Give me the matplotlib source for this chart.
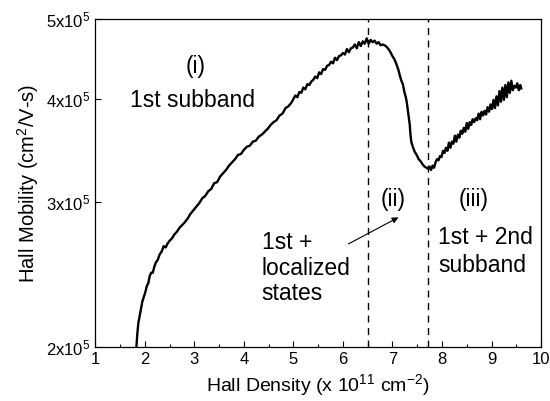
import matplotlib
matplotlib.use("Agg")
import matplotlib.pyplot as plt
from matplotlib.ticker import FixedLocator, NullLocator, MultipleLocator

plt.rcParams['font.family'] = 'Liberation Sans'
plt.rcParams['mathtext.fontset'] = 'custom'
plt.rcParams['mathtext.rm'] = 'Liberation Sans'
plt.rcParams['mathtext.it'] = 'Liberation Sans:italic'
plt.rcParams['mathtext.bf'] = 'Liberation Sans:bold'

# Hall density (1e11 cm^-2) and Hall mobility (1e5 cm^2/V-s)
density = [
    1.83, 1.85, 1.87, 1.89, 1.92, 1.95, 1.98, 2.01, 2.04, 2.07, 2.10, 2.13, 2.16, 2.19, 2.22,
    2.26, 2.30, 2.34, 2.38, 2.42, 2.46, 2.50, 2.55, 2.60, 2.65, 2.70, 2.75, 2.80, 2.86, 2.92,
    2.98,
    3.04, 3.10, 3.16, 3.22, 3.28, 3.34, 3.40, 3.46, 3.52, 3.58, 3.64, 3.70, 3.76, 3.82, 3.88,
    3.94, 4.00, 4.06, 4.12, 4.18, 4.24, 4.30, 4.36, 4.42, 4.48, 4.54, 4.60, 4.66, 4.72, 4.78,
    4.84, 4.90, 4.96,
    5.00, 5.04, 5.08, 5.12, 5.16, 5.20, 5.24, 5.28, 5.32, 5.36, 5.40, 5.44, 5.48, 5.52, 5.56,
    5.60, 5.64, 5.68, 5.72, 5.76, 5.80, 5.84, 5.88, 5.92, 5.96, 6.00, 6.04, 6.08, 6.12, 6.16,
    6.20, 6.24, 6.28, 6.32, 6.36, 6.40, 6.44, 6.48, 6.52, 6.56, 6.60, 6.64, 6.68, 6.72, 6.76,
    6.80, 6.84, 6.88,
    6.92, 6.96, 7.00, 7.04, 7.08, 7.12, 7.15, 7.18, 7.21, 7.24, 7.27, 7.29, 7.31, 7.33, 7.35,
    7.36, 7.38, 7.41, 7.45, 7.49, 7.53, 7.57, 7.61, 7.65, 7.69, 7.72,
    7.75, 7.78, 7.81, 7.84, 7.87, 7.90, 7.93, 7.96, 7.99, 8.02, 8.05, 8.08, 8.11, 8.14, 8.17,
    8.20, 8.23, 8.26, 8.29, 8.32, 8.35, 8.38, 8.41, 8.44, 8.47, 8.50, 8.53, 8.56, 8.59, 8.62,
    8.65, 8.68, 8.71, 8.74, 8.77, 8.80, 8.83, 8.86, 8.89, 8.92, 8.95, 8.98, 9.01, 9.04, 9.07,
    9.10, 9.13, 9.16, 9.19, 9.22, 9.25, 9.28, 9.31, 9.34, 9.37, 9.40, 9.43, 9.46, 9.49, 9.52,
    9.55, 9.58, 9.60,
]
mobility = [
    2.00, 2.08, 2.14, 2.17, 2.22, 2.27, 2.30, 2.33, 2.37, 2.39, 2.44, 2.46, 2.46, 2.50, 2.53,
    2.55, 2.59, 2.61, 2.65, 2.64, 2.67, 2.69, 2.71, 2.74, 2.76, 2.79, 2.81, 2.83, 2.86, 2.90,
    2.93,
    2.96, 2.99, 3.03, 3.05, 3.09, 3.11, 3.16, 3.17, 3.22, 3.25, 3.28, 3.32, 3.35, 3.38, 3.42,
    3.43, 3.47, 3.50, 3.51, 3.55, 3.56, 3.60, 3.62, 3.65, 3.68, 3.72, 3.75, 3.77, 3.82, 3.84,
    3.90, 3.92, 3.96,
    4.00, 4.04, 4.02, 4.08, 4.07, 4.13, 4.11, 4.17, 4.16, 4.20, 4.22, 4.26, 4.24, 4.31, 4.29,
    4.35, 4.34, 4.39, 4.40, 4.44, 4.42, 4.49, 4.46, 4.51, 4.52, 4.55, 4.53, 4.60, 4.56, 4.61,
    4.62, 4.66, 4.61, 4.69, 4.64, 4.70, 4.67, 4.74, 4.67, 4.72, 4.69, 4.71, 4.67, 4.69, 4.65,
    4.66, 4.65, 4.63,
    4.60, 4.56, 4.51, 4.47, 4.41, 4.34, 4.27, 4.21, 4.17, 4.08, 4.02, 3.96, 3.88, 3.80, 3.72,
    3.64, 3.55, 3.50, 3.45, 3.42, 3.38, 3.36, 3.33, 3.31, 3.30, 3.29,
    3.31, 3.28, 3.32, 3.30, 3.35, 3.38, 3.37, 3.41, 3.40, 3.46, 3.44, 3.49, 3.46, 3.54, 3.49,
    3.55, 3.53, 3.61, 3.55, 3.62, 3.59, 3.66, 3.63, 3.69, 3.65, 3.74, 3.68, 3.75, 3.72, 3.78,
    3.75, 3.79, 3.77, 3.84, 3.78, 3.86, 3.82, 3.87, 3.83, 3.91, 3.86, 3.94, 3.89, 3.99, 3.90,
    4.03, 3.93, 4.09, 3.97, 4.13, 3.99, 4.16, 4.02, 4.19, 4.07, 4.21, 4.10, 4.15, 4.13, 4.18,
    4.10, 4.16, 4.12,
]

# Boundaries between the transport regimes
regime_edges = [6.5, 7.72]

y_ticks = [2e5, 3e5, 4e5, 5e5]
y_ticklabels = ['2x10$^5$', '3x10$^5$', '4x10$^5$', '5x10$^5$']
x_ticks = [1, 2, 3, 4, 5, 6, 7, 8, 9, 10]

fig = plt.figure(figsize=(5.5, 4.01), dpi=100)
ax = fig.add_axes([0.1733, 0.1354, 0.8104, 0.8165])

ax.plot(density, [m * 1e5 for m in mobility], color='black', lw=1.7)
for xe in regime_edges:
    ax.axvline(xe, color='black', lw=1.0, ls=(0, (5, 4)))

ax.set_yscale('log')
ax.set_xlim(1, 10)
ax.set_ylim(2e5, 5e5)
ax.yaxis.set_major_locator(FixedLocator(y_ticks))
ax.yaxis.set_minor_locator(NullLocator())
ax.set_yticklabels(y_ticklabels)
ax.xaxis.set_major_locator(FixedLocator(x_ticks))
ax.xaxis.set_minor_locator(MultipleLocator(0.5))

ax.tick_params(which='both', direction='in', labelsize=12, width=0.8)
ax.tick_params(which='major', length=4.5)
ax.tick_params(which='minor', length=2.5)
for sp in ax.spines.values():
    sp.set_linewidth(0.9)

ax.set_xlabel('Hall Density (x 10$^{11}$ cm$^{-2}$)', fontsize=14, labelpad=4)
ax.set_ylabel('Hall Mobility (cm$^2$/V-s)', fontsize=14.5, labelpad=4)

fs = 16.5
ax.text(0.224, 0.855, '(i)', transform=ax.transAxes, fontsize=fs, ha='center', va='center')
ax.text(0.219, 0.751, '1st subband', transform=ax.transAxes, fontsize=fs, ha='center', va='center')
ax.text(0.373, 0.240, '1st +\nlocalized\nstates', transform=ax.transAxes, fontsize=fs,
        ha='left', va='center', linespacing=1.15)
ax.text(0.669, 0.450, '(ii)', transform=ax.transAxes, fontsize=fs, ha='center', va='center')
ax.text(0.848, 0.450, '(iii)', transform=ax.transAxes, fontsize=fs, ha='center', va='center')
ax.text(0.769, 0.290, '1st + 2nd\nsubband', transform=ax.transAxes, fontsize=fs,
        ha='left', va='center', linespacing=1.3)
ax.annotate('', xy=(0.680, 0.395), xytext=(0.568, 0.314), xycoords='axes fraction',
            textcoords='axes fraction',
            arrowprops=dict(arrowstyle='-|>', color='black', lw=0.8,
                            mutation_scale=9, shrinkA=0, shrinkB=0))

fig.savefig('out.png', dpi=100)
